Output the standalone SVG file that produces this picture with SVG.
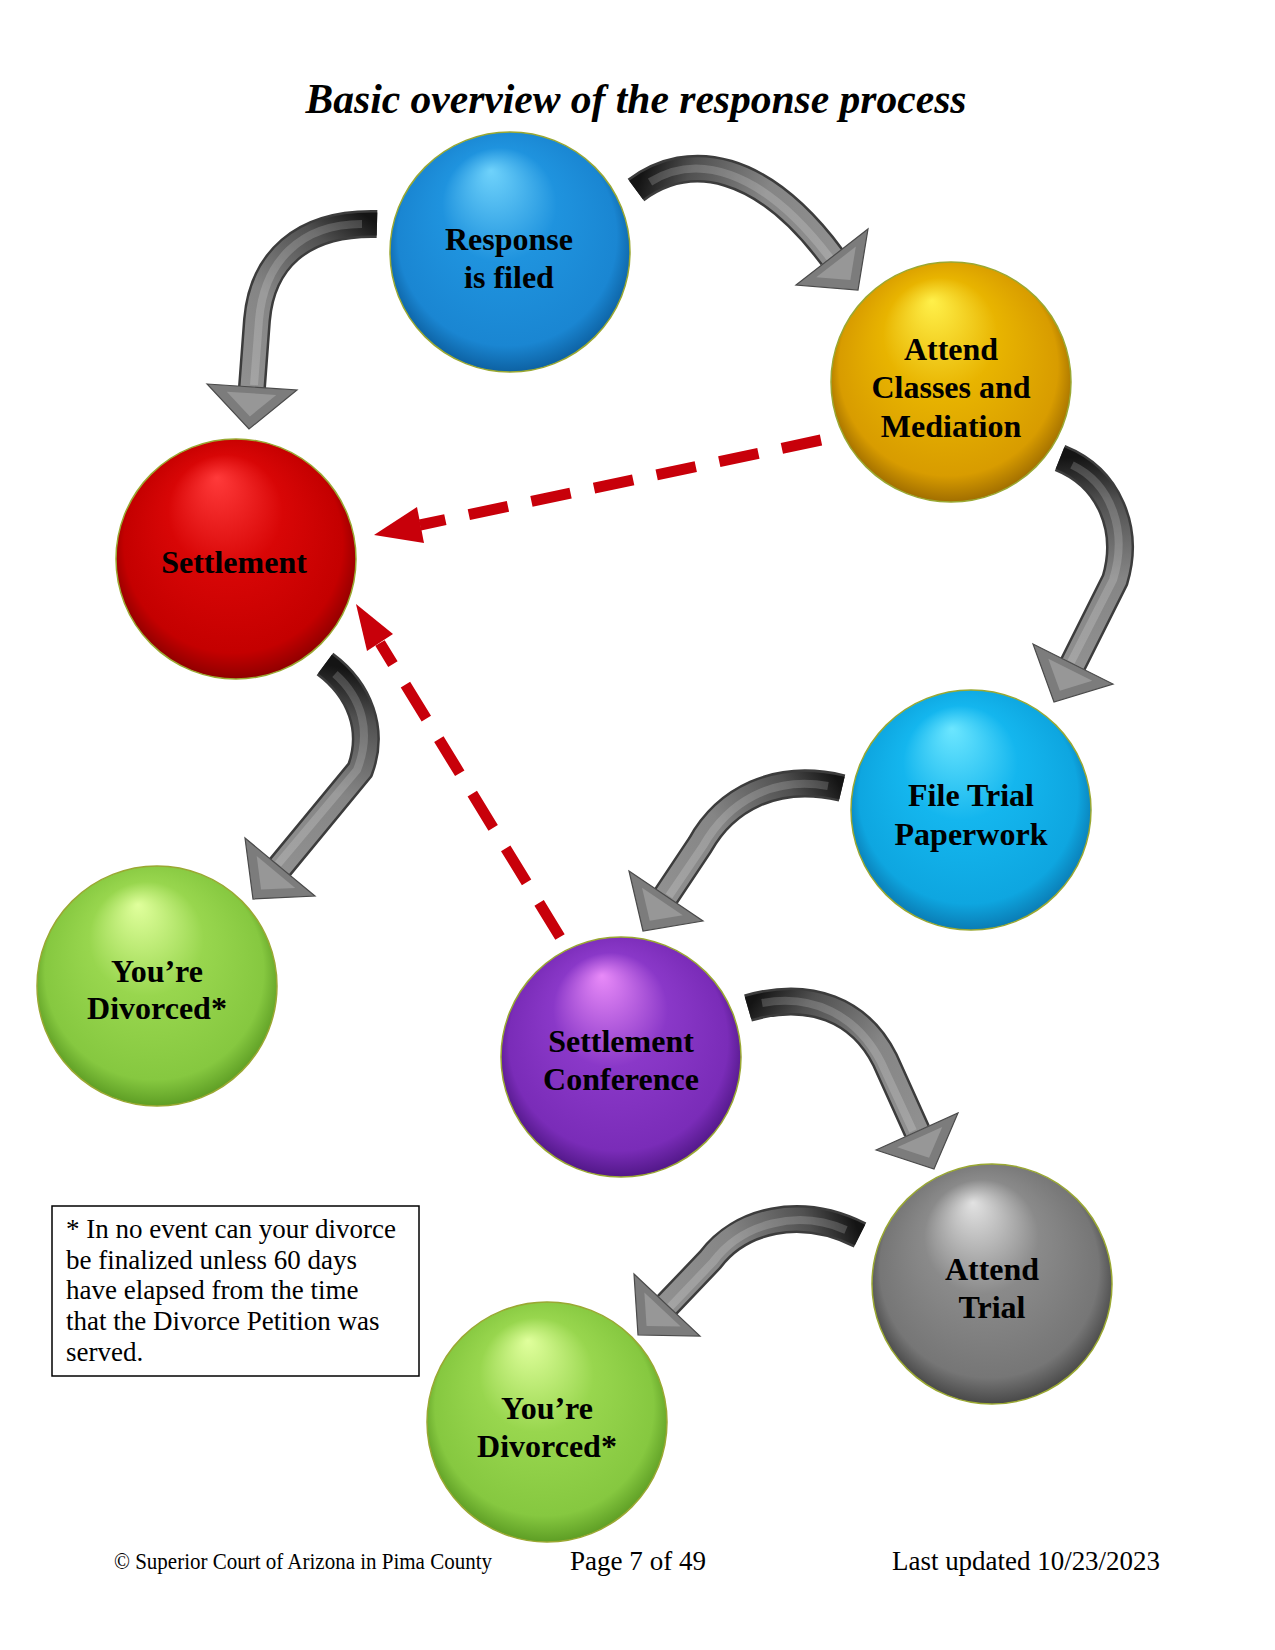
<svg xmlns="http://www.w3.org/2000/svg" width="1275" height="1650" viewBox="0 0 1275 1650">
<style>
.lbl{font-family:"Liberation Serif","Times New Roman",serif;font-weight:bold;font-size:32px;fill:#000;text-anchor:middle}
.note{font-family:"Liberation Serif","Times New Roman",serif;font-size:27px;fill:#000}
.foot{font-family:"Liberation Serif","Times New Roman",serif;fill:#000}
.sph{stroke:#9aa832;stroke-width:1.5}
.under{fill:none;stroke:#3c3c3c;stroke-width:28}
.mid{fill:none;stroke-width:23}
.hi{fill:none;stroke:#fff;stroke-opacity:.18;stroke-width:8}
.head{fill:#7c7c7c;stroke:#4a4a4a;stroke-width:1.2}
.headin{fill:#979797}
.dash{fill:none;stroke:#c8000a;stroke-width:11;stroke-dasharray:40 24}
.dhead{fill:#c8000a}
</style>
<defs>
<radialGradient id="gBlue" cx="0.5" cy="0.48" r="0.53" fx="0.42" fy="0.16"><stop offset="0" stop-color="#6fd2fb"/><stop offset="0.45" stop-color="#1f93de"/><stop offset="0.86" stop-color="#1a86d2"/><stop offset="1" stop-color="#0c5e9e"/></radialGradient>
<radialGradient id="gGold" cx="0.5" cy="0.48" r="0.53" fx="0.42" fy="0.16"><stop offset="0" stop-color="#fff04a"/><stop offset="0.45" stop-color="#e8b400"/><stop offset="0.86" stop-color="#d89c00"/><stop offset="1" stop-color="#9c6a00"/></radialGradient>
<radialGradient id="gRed" cx="0.5" cy="0.48" r="0.53" fx="0.42" fy="0.16"><stop offset="0" stop-color="#ff3a3a"/><stop offset="0.45" stop-color="#d80606"/><stop offset="0.86" stop-color="#c40000"/><stop offset="1" stop-color="#8a0000"/></radialGradient>
<radialGradient id="gCyan" cx="0.5" cy="0.48" r="0.53" fx="0.42" fy="0.16"><stop offset="0" stop-color="#6ce6ff"/><stop offset="0.45" stop-color="#14b6ee"/><stop offset="0.86" stop-color="#0ea6e0"/><stop offset="1" stop-color="#0a78b0"/></radialGradient>
<radialGradient id="gGreen" cx="0.5" cy="0.48" r="0.53" fx="0.42" fy="0.16"><stop offset="0" stop-color="#e0ff9c"/><stop offset="0.45" stop-color="#98d64e"/><stop offset="0.86" stop-color="#86c840"/><stop offset="1" stop-color="#5a9a22"/></radialGradient>
<radialGradient id="gPurple" cx="0.5" cy="0.48" r="0.53" fx="0.42" fy="0.16"><stop offset="0" stop-color="#e88af8"/><stop offset="0.45" stop-color="#8a38c8"/><stop offset="0.86" stop-color="#7a2cb8"/><stop offset="1" stop-color="#4e1684"/></radialGradient>
<radialGradient id="gGray" cx="0.5" cy="0.48" r="0.53" fx="0.42" fy="0.16"><stop offset="0" stop-color="#e2e2e2"/><stop offset="0.45" stop-color="#8a8a8a"/><stop offset="0.86" stop-color="#767676"/><stop offset="1" stop-color="#444"/></radialGradient>
<linearGradient id="arm"><stop offset="0" stop-color="#141414"/><stop offset="0.22" stop-color="#505050"/><stop offset="0.6" stop-color="#858585"/><stop offset="1" stop-color="#909090"/></linearGradient>
<linearGradient id="a1" href="#arm" gradientUnits="userSpaceOnUse" x1="377" y1="224" x2="252" y2="387"/>
<linearGradient id="a2" href="#arm" gradientUnits="userSpaceOnUse" x1="636" y1="190" x2="832" y2="257"/>
<linearGradient id="a3" href="#arm" gradientUnits="userSpaceOnUse" x1="1060" y1="458" x2="1073" y2="664"/>
<linearGradient id="a4" href="#arm" gradientUnits="userSpaceOnUse" x1="325" y1="664" x2="280" y2="867"/>
<linearGradient id="a5" href="#arm" gradientUnits="userSpaceOnUse" x1="842" y1="788" x2="666" y2="896"/>
<linearGradient id="a6" href="#arm" gradientUnits="userSpaceOnUse" x1="748" y1="1008" x2="917" y2="1131"/>
<linearGradient id="a7" href="#arm" gradientUnits="userSpaceOnUse" x1="860" y1="1235" x2="667" y2="1305"/>
</defs>
<rect x="0" y="0" width="1275" height="1650" fill="#fff"/>

<text x="636" y="113" text-anchor="middle" textLength="661" lengthAdjust="spacingAndGlyphs" style="font-family:'Liberation Serif','Times New Roman',serif;font-weight:bold;font-style:italic;font-size:42px">Basic overview of the response process</text>

<g id="connectors">
  <g id="arrow-response-settlement">
    <path class="under" d="M 377 224 C 300 222, 262 262, 257 320 L 252 387"/>
    <path class="mid" stroke="url(#a1)" d="M 377 224 C 300 222, 262 262, 257 320 L 252 387"/>
    <path class="hi" d="M 362 224 C 300 224, 264 262, 259 320 L 254 385"/>
    <polygon class="head" points="207,384 297,390 249,429"/>
    <polygon class="headin" points="207,384 297,390 249,429" transform="translate(251 401) scale(.55) translate(-251 -401)"/>
  </g>
  <g id="arrow-response-classes">
    <path class="under" d="M 636 190 C 690 150, 762 163, 832 257"/>
    <path class="mid" stroke="url(#a2)" d="M 636 190 C 690 150, 762 163, 832 257"/>
    <path class="hi" d="M 650 182 C 695 154, 760 166, 830 258"/>
    <polygon class="head" points="796,285 868,229 858,290"/>
    <polygon class="headin" points="796,285 868,229 858,290" transform="translate(841 268) scale(.55) translate(-841 -268)"/>
  </g>
  <g id="arrow-classes-trial">
    <path class="under" d="M 1060 458 C 1110 478, 1130 530, 1115 580 L 1073 664"/>
    <path class="mid" stroke="url(#a3)" d="M 1060 458 C 1110 478, 1130 530, 1115 580 L 1073 664"/>
    <path class="hi" d="M 1072 465 C 1112 484, 1128 532, 1113 580 L 1071 662"/>
    <polygon class="head" points="1033,644 1113,684 1054,702"/>
    <polygon class="headin" points="1033,644 1113,684 1054,702" transform="translate(1067 677) scale(.55) translate(-1067 -677)"/>
  </g>
  <g id="arrow-settlement-divorced">
    <path class="under" d="M 325 664 C 360 690, 375 730, 360 770 L 280 867"/>
    <path class="mid" stroke="url(#a4)" d="M 325 664 C 360 690, 375 730, 360 770 L 280 867"/>
    <path class="hi" d="M 335 674 C 362 698, 372 732, 357 770 L 278 864"/>
    <polygon class="head" points="245,838 315,896 253,899"/>
    <polygon class="headin" points="245,838 315,896 253,899" transform="translate(271 878) scale(.55) translate(-271 -878)"/>
  </g>
  <g id="arrow-trial-conference">
    <path class="under" d="M 842 788 C 775 772, 725 800, 700 845 L 666 896"/>
    <path class="mid" stroke="url(#a5)" d="M 842 788 C 775 772, 725 800, 700 845 L 666 896"/>
    <path class="hi" d="M 828 786 C 772 776, 728 802, 703 846 L 669 896"/>
    <polygon class="head" points="629,871 703,921 643,931"/>
    <polygon class="headin" points="629,871 703,921 643,931" transform="translate(658 908) scale(.55) translate(-658 -908)"/>
  </g>
  <g id="arrow-conference-attendtrial">
    <path class="under" d="M 748 1008 C 810 990, 860 1010, 885 1060 L 917 1131"/>
    <path class="mid" stroke="url(#a6)" d="M 748 1008 C 810 990, 860 1010, 885 1060 L 917 1131"/>
    <path class="hi" d="M 762 1003 C 812 994, 856 1014, 881 1062 L 913 1131"/>
    <polygon class="head" points="876,1150 958,1113 934,1169"/>
    <polygon class="headin" points="876,1150 958,1113 934,1169" transform="translate(923 1144) scale(.55) translate(-923 -1144)"/>
  </g>
  <g id="arrow-attendtrial-divorced">
    <path class="under" d="M 860 1235 C 800 1205, 740 1220, 710 1260 L 667 1305"/>
    <path class="mid" stroke="url(#a7)" d="M 860 1235 C 800 1205, 740 1220, 710 1260 L 667 1305"/>
    <path class="hi" d="M 846 1230 C 798 1209, 742 1223, 713 1262 L 670 1307"/>
    <polygon class="head" points="634,1274 700,1336 638,1335"/>
    <polygon class="headin" points="634,1274 700,1336 638,1335" transform="translate(657 1315) scale(.55) translate(-657 -1315)"/>
  </g>
  <g id="dashed-classes-settlement">
    <path class="dash" d="M 821 440 L 420 525"/>
    <polygon class="dhead" points="374,535 424,543 417,507"/>
  </g>
  <g id="dashed-conference-settlement">
    <path class="dash" d="M 560 937 L 380 643"/>
    <polygon class="dhead" points="356,604 393,634 367,651"/>
  </g>
</g>

<g id="node-response">
  <circle class="sph" cx="510" cy="252" r="120" fill="url(#gBlue)"/>
  <text class="lbl" x="509" y="250">Response</text>
  <text class="lbl" x="509" y="288">is filed</text>
</g>
<g id="node-classes">
  <circle class="sph" cx="951" cy="382" r="120" fill="url(#gGold)"/>
  <text class="lbl" x="951" y="360">Attend</text>
  <text class="lbl" x="951" y="398">Classes and</text>
  <text class="lbl" x="951" y="437">Mediation</text>
</g>
<g id="node-settlement">
  <circle class="sph" cx="236" cy="559" r="120" fill="url(#gRed)"/>
  <text class="lbl" x="234" y="573">Settlement</text>
</g>
<g id="node-filetrial">
  <circle class="sph" cx="971" cy="810" r="120" fill="url(#gCyan)"/>
  <text class="lbl" x="971" y="806">File Trial</text>
  <text class="lbl" x="971" y="845">Paperwork</text>
</g>
<g id="node-divorced-1">
  <circle class="sph" cx="157" cy="986" r="120" fill="url(#gGreen)"/>
  <text class="lbl" x="157" y="982">You’re</text>
  <text class="lbl" x="157" y="1019">Divorced*</text>
</g>
<g id="node-conference">
  <circle class="sph" cx="621" cy="1057" r="120" fill="url(#gPurple)"/>
  <text class="lbl" x="621" y="1052">Settlement</text>
  <text class="lbl" x="621" y="1090">Conference</text>
</g>
<g id="node-attendtrial">
  <circle class="sph" cx="992" cy="1284" r="120" fill="url(#gGray)"/>
  <text class="lbl" x="992" y="1280">Attend</text>
  <text class="lbl" x="992" y="1318">Trial</text>
</g>
<g id="node-divorced-2">
  <circle class="sph" cx="547" cy="1422" r="120" fill="url(#gGreen)"/>
  <text class="lbl" x="547" y="1419">You’re</text>
  <text class="lbl" x="547" y="1457">Divorced*</text>
</g>

<g id="footnote">
  <rect x="52" y="1206" width="367" height="170" fill="#fff" stroke="#000" stroke-width="1.5"/>
  <text class="note" x="66" y="1238">* In no event can your divorce</text>
  <text class="note" x="66" y="1269">be finalized unless 60 days</text>
  <text class="note" x="66" y="1299">have elapsed from the time</text>
  <text class="note" x="66" y="1330">that the Divorce Petition was</text>
  <text class="note" x="66" y="1361">served.</text>
</g>

<g id="footer">
  <text class="foot" x="114" y="1569" font-size="24" textLength="378" lengthAdjust="spacingAndGlyphs">© Superior Court of Arizona in Pima County</text>
  <text class="foot" x="570" y="1570" font-size="27" textLength="136" lengthAdjust="spacingAndGlyphs">Page 7 of 49</text>
  <text class="foot" x="892" y="1570" font-size="27" textLength="268" lengthAdjust="spacingAndGlyphs">Last updated 10/23/2023</text>
</g>
</svg>
